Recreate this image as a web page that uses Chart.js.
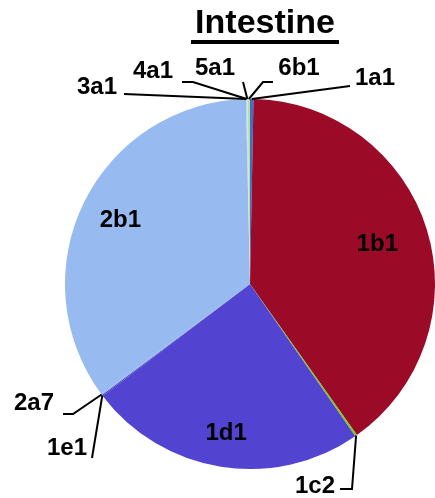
<!DOCTYPE html>
<html>
<head>
<meta charset="utf-8">
<script src="https://cdn.jsdelivr.net/npm/chart.js@4/dist/chart.umd.min.js"></script>
<style>
  body { margin: 0; background: #fff; }
  #wrap { position: relative; width: 435px; height: 498px; }
  #title {
    position: absolute; left: 0; top: 2px; width: 530px; text-align: center;
    font: bold 34px "Liberation Sans", Arial, sans-serif; color: #000;
  }
  #title span { display: inline-block; border-bottom: 4px solid #000; line-height: 38px; padding: 0 4px; }
</style>
</head>
<body>
<div id="wrap">
  <canvas id="pieChart" width="435" height="498"></canvas>
  <div id="title"><span>Intestine</span></div>
</div>
<script>
// slices clockwise from 12 o'clock
const categories = ['1a1', '1b1', '1c2', '1d1', '1e1', '2a7', '2b1', '3a1', '4a1', '5a1', '6b1'];
const percents = [0.3, 39.9, 0.18, 24.3, 0.1, 0.1, 34.8, 0.05, 0.05, 0.05, 0.2];
const colors = ['#3a6fd0', '#9b0a27', '#7acc1e', '#5243d0', '#4a3fc0', '#86aee8', '#97bbf0', '#a8c8f0', '#b8d8e8', '#c8e8c0', '#b8e0a0'];

// labels inside big slices: fraction of radius along slice middle
const insideLabels = { '1b1': 0.72, '2b1': 0.78, '1d1': 0.82 };

// labels outside: text centre and leader elbows (canvas px)
const outsideLabels = {
  '1a1': { x: 375, y: 78, path: [[350, 86]] },
  '6b1': { x: 299, y: 68, path: [[273, 82], [263, 82]] },
  '5a1': { x: 215, y: 68, path: [[243, 82]] },
  '4a1': { x: 153, y: 71, path: [[182, 82], [193, 82]] },
  '3a1': { x: 97, y: 87, path: [[124, 94]] },
  '2a7': { x: 34, y: 403, path: [[63, 414], [73, 414]] },
  '1e1': { x: 67, y: 448, path: [[92, 458]] },
  '1c2': { x: 315, y: 486, path: [[340, 489], [352, 489]] }
};

const labelPlugin = {
  id: 'sliceLabels',
  afterDatasetsDraw(chart) {
    const ctx = chart.ctx;
    const meta = chart.getDatasetMeta(0);
    ctx.save();
    ctx.font = 'bold 24px "Liberation Sans", Arial, sans-serif';
    ctx.fillStyle = '#000';
    ctx.textAlign = 'center';
    ctx.textBaseline = 'middle';
    ctx.strokeStyle = '#000';
    ctx.lineWidth = 2;
    meta.data.forEach((arc, i) => {
      const name = categories[i];
      const p = arc.getProps(['x', 'y', 'startAngle', 'endAngle', 'outerRadius'], true);
      const mid = (p.startAngle + p.endAngle) / 2;
      if (insideLabels[name]) {
        const r = p.outerRadius * insideLabels[name];
        ctx.fillText(name, p.x + Math.cos(mid) * r, p.y + Math.sin(mid) * r);
        return;
      }
      const lab = outsideLabels[name];
      if (!lab) return;
      const ex = p.x + Math.cos(mid) * p.outerRadius;
      const ey = p.y + Math.sin(mid) * p.outerRadius;
      ctx.beginPath();
      ctx.moveTo(lab.path[0][0], lab.path[0][1]);
      lab.path.slice(1).forEach(pt => ctx.lineTo(pt[0], pt[1]));
      ctx.lineTo(ex, ey);
      ctx.stroke();
      ctx.fillText(name, lab.x, lab.y);
    });
    ctx.restore();
  }
};

new Chart(document.getElementById('pieChart').getContext('2d'), {
  type: 'pie',
  data: {
    labels: categories,
    datasets: [{
      data: percents,
      backgroundColor: colors,
      borderWidth: 0
    }]
  },
  options: {
    responsive: false,
    animation: false,
    layout: { padding: { left: 65, right: 0, top: 99, bottom: 29 } },
    plugins: {
      legend: { display: false },
      tooltip: { enabled: false }
    }
  },
  plugins: [labelPlugin]
});
</script>
</body>
</html>
